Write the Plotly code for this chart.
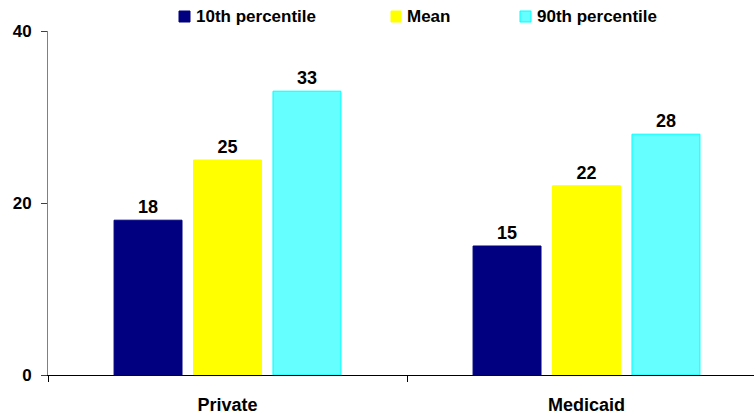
import plotly.graph_objects as go

# Chart data
categories = ["Private", "Medicaid"]
series_names = ["10th percentile", "Mean", "90th percentile"]
p10_values = [18, 15]
mean_values = [25, 22]
p90_values = [33, 28]
y_ticks = [0, 20, 40]

fill_colors = ["#000080", "#FFFF00", "#66FFFF"]
edge_colors = ["#000080", "#FFFF00", "#00FFFF"]

FONT = "Liberation Sans, Arial, sans-serif"

W, H = 754, 417
ML, MR, MT, MB = 48, 0, 31, 42
plot_w = W - ML - MR
plot_h = H - MT - MB
cat_px = 359.0  # pixel width of one category slot

fig = go.Figure()
for name, vals, fc, ec in zip(series_names, [p10_values, mean_values, p90_values],
                              fill_colors, edge_colors):
    fig.add_trace(go.Bar(
        x=categories, y=vals, name=name,
        marker=dict(color=fc, line=dict(color=ec, width=1)),
        text=[str(v) for v in vals], textposition="outside",
        textfont=dict(family=FONT, size=18, color="#000000", weight="bold"),
        cliponaxis=False, showlegend=False,
    ))

# Legend drawn as a row of swatches and labels above the plot
def px_to_paper_x(px):
    return (px - ML) / plot_w

def px_to_paper_y(py):
    return (H - MB - py) / plot_h

legend_items = [(179, 190, 195), (391, 401, 406), (520, 531, 536)]
for (x0, x1, tx), name, fc, ec in zip(legend_items, series_names, fill_colors, edge_colors):
    fig.add_shape(type="rect", xref="paper", yref="paper",
                  x0=px_to_paper_x(x0), x1=px_to_paper_x(x1),
                  y0=px_to_paper_y(22), y1=px_to_paper_y(11),
                  fillcolor=fc, line=dict(color=ec, width=1))
    fig.add_annotation(xref="paper", yref="paper",
                       x=px_to_paper_x(tx - 1), y=px_to_paper_y(16.5),
                       xanchor="left", yanchor="middle", showarrow=False,
                       text=name,
                       font=dict(family=FONT, size=17, color="#000000", weight="bold"))

fig.update_layout(
    width=W, height=H,
    margin=dict(l=ML, r=MR, t=MT, b=MB, pad=0),
    paper_bgcolor="white", plot_bgcolor="white",
    barmode="group", bargap=0.336, bargroupgap=0.145,
    font=dict(family=FONT, size=17, color="#000000"),
)
fig.update_xaxes(
    type="category", range=[-0.5, -0.5 + plot_w / cat_px],
    showline=True, linecolor="#000000", linewidth=1,
    ticks="outside", tickson="boundaries", ticklen=6, tickcolor="#000000",
    ticklabelstandoff=13,
    tickfont=dict(family=FONT, size=18, color="#000000", weight="bold"),
    showgrid=False, zeroline=False,
)
fig.update_yaxes(
    range=[0, 40], tickvals=y_ticks,
    showline=True, linecolor="#808080", linewidth=1,
    ticks="outside", ticklen=6, tickcolor="#404040",
    ticklabelstandoff=6,
    tickfont=dict(family=FONT, size=17, color="#000000", weight="bold"),
    showgrid=False, zeroline=False,
)

fig.write_html("out.html")
